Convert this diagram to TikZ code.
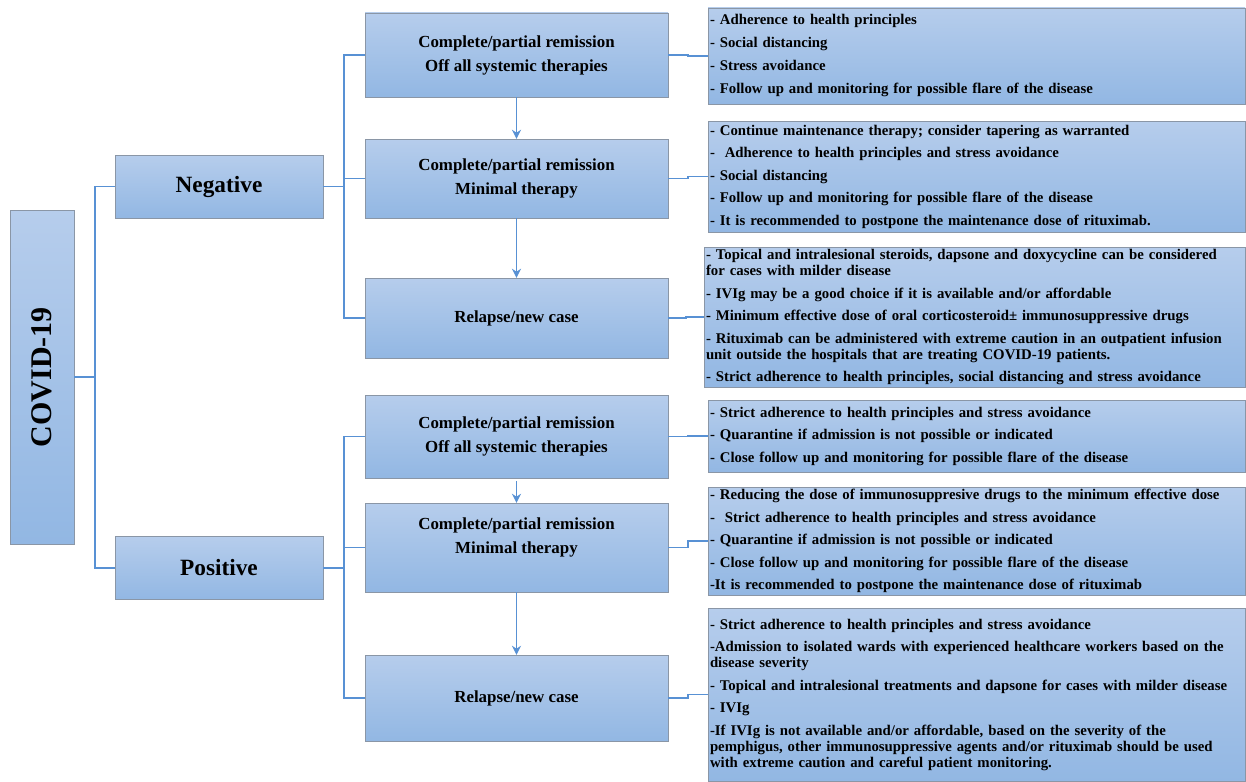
\documentclass[tikz,border=0pt]{standalone}
\usepackage{fontspec}
\setmainfont{Liberation Serif}
\usepackage{tikz}
\usetikzlibrary{
arrows.meta,
positioning,
calc
}
\definecolor{boxtop}{RGB}{182,205,236}
\definecolor{boxbot}{RGB}{146,183,227}
\definecolor{boxline}{RGB}{138,150,166}
\definecolor{linkblue}{RGB}{88,145,212}

\begin{document}
\begin{tikzpicture}[
  x=1pt, y=-1pt,
  base/.style={draw=boxline, top color=boxtop, bottom color=boxbot, align=center, inner sep=2pt},
  root/.style={base, minimum width=64pt, minimum height=334pt, font=\fontsize{30}{33}\selectfont\bfseries},
  test/.style={base, minimum width=208pt, minimum height=63pt, font=\fontsize{23.3}{27}\selectfont\bfseries},
  stage/.style={base, minimum width=303pt, font=\fontsize{16.9}{24}\selectfont\bfseries},
  advice/.style={base, text width=533pt, align=left, font=\fontsize{14.8}{16}\selectfont\bfseries},
  link/.style={draw=linkblue, line width=1.6pt},
  >={Stealth[length=9pt,width=9pt]}
]
  \useasboundingbox (0,0) rectangle (1246,781);

  % Test result
  \node[root] (covid) at (42,377) {\rotatebox{90}{COVID-19}};
  \node[test] (neg) at (219,186.5) {Negative};
  \node[test] (pos) at (219,568) {Positive};

  % Disease stages
  \node[stage, minimum height=84pt] (neg1) at (516.5,55) {Complete/partial remission\\Off all systemic therapies};
  \node[stage, minimum height=79pt] (neg2) at (516.5,178.5) {Complete/partial remission\\Minimal therapy};
  \node[stage, minimum height=80pt] (neg3) at (516.5,318) {Relapse/new case};
  \node[stage, minimum height=83pt] (pos1) at (516.5,436.5) {Complete/partial remission\\Off all systemic therapies};
  \node[stage, minimum height=89pt] (pos2) at (516.5,547.5) {Complete/partial remission\\Minimal therapy\\[0pt]};
  \node[stage, minimum height=86pt] (pos3) at (516.5,698) {Relapse/new case};

  % Recommendations
  \node[advice, minimum height=96pt] (negtip1) at (976.5,56) {- Adherence to health principles\\[7pt]
    - Social distancing\\[7pt]
    - Stress avoidance\\[7pt]
    - Follow up and monitoring for possible flare of the disease};
  \node[advice, minimum height=111pt] (negtip2) at (976.5,176.5) {- Continue maintenance therapy; consider tapering as warranted\\[6.5pt]
    -\ \ Adherence to health principles and stress avoidance\\[6.5pt]
    - Social distancing\\[6.5pt]
    - Follow up and monitoring for possible flare of the disease\\[6.5pt]
    - It is recommended to postpone the maintenance dose of rituximab.};
  \node[advice, text width=537pt, minimum height=134pt] (negtip3) at (974.5,317) {- Topical and intralesional steroids, dapsone and doxycycline can be considered\\
    for cases with milder disease\\[6.5pt]
    - IVIg may be a good choice if it is available and/or affordable\\[6.5pt]
    - Minimum effective dose of oral corticosteroid± immunosuppressive drugs\\[6.5pt]
    - Rituximab can be administered with extreme caution in an outpatient infusion\\
    unit outside the hospitals that are treating COVID-19 patients.\\[6.5pt]
    - Strict adherence to health principles, social distancing and stress avoidance};
  \node[advice, minimum height=72pt] (postip1) at (976.5,436) {- Strict adherence to health principles and stress avoidance\\[6.5pt]
    - Quarantine if admission is not possible or indicated\\[6.5pt]
    - Close follow up and monitoring for possible flare of the disease};
  \node[advice, minimum height=108pt] (postip2) at (976.5,541) {- Reducing the dose of immunosuppresive drugs to the minimum effective dose\\[6.5pt]
    -\ \ Strict adherence to health principles and stress avoidance\\[6.5pt]
    - Quarantine if admission is not possible or indicated\\[6.5pt]
    - Close follow up and monitoring for possible flare of the disease\\[6.5pt]
    -It is recommended to postpone the maintenance dose of rituximab};
  \node[advice, minimum height=173pt] (postip3) at (976.5,694.5) {- Strict adherence to health principles and stress avoidance\\[6.5pt]
    -Admission to isolated wards with experienced healthcare workers based on the\\
    disease severity\\[6.5pt]
    - Topical and intralesional treatments and dapsone for cases with milder disease\\[6.5pt]
    - IVIg\\[6.5pt]
    -If IVIg is not available and/or affordable, based on the severity of the\\
    pemphigus, other immunosuppressive agents and/or rituximab should be used\\
    with extreme caution and careful patient monitoring.\\[10pt]};

  % Tree connectors
  \draw[link] (covid.east) -- ++(21,0) |- (neg.west);
  \draw[link] (covid.east) -- ++(21,0) |- (pos.west);
  \draw[link] (neg.east) -- ++(21,0) |- (neg1.west);
  \draw[link] (neg.east) -- ++(21,0) |- (neg2.west);
  \draw[link] (neg.east) -- ++(21,0) |- (neg3.west);
  \draw[link] (pos.east) -- ++(21,0) |- (pos1.west);
  \draw[link] (pos.east) -- ++(21,0) |- (pos2.west);
  \draw[link] (pos.east) -- ++(21,0) |- (pos3.west);

  % Stage to recommendation
  \draw[link] (neg1.east) -- ++(20,0) |- (negtip1.west);
  \draw[link] (neg2.east) -- ++(20,0) |- (negtip2.west);
  \draw[link] (neg3.east) -- ++(18,0) |- (negtip3.west);
  \draw[link] (pos1.east) -- ++(20,0) |- (postip1.west);
  \draw[link] (pos2.east) -- ++(20,0) |- (postip2.west);
  \draw[link] (pos3.east) -- ++(20,0) |- (postip3.west);

  % Progression arrows
  \draw[link, ->] (neg1) -- (neg2);
  \draw[link, ->] (neg2) -- (neg3);
  \draw[link, ->] (pos1.south) ++(0,3) -- (pos2.north);
  \draw[link, ->] (pos2) -- (pos3);

\end{tikzpicture}
\end{document}
